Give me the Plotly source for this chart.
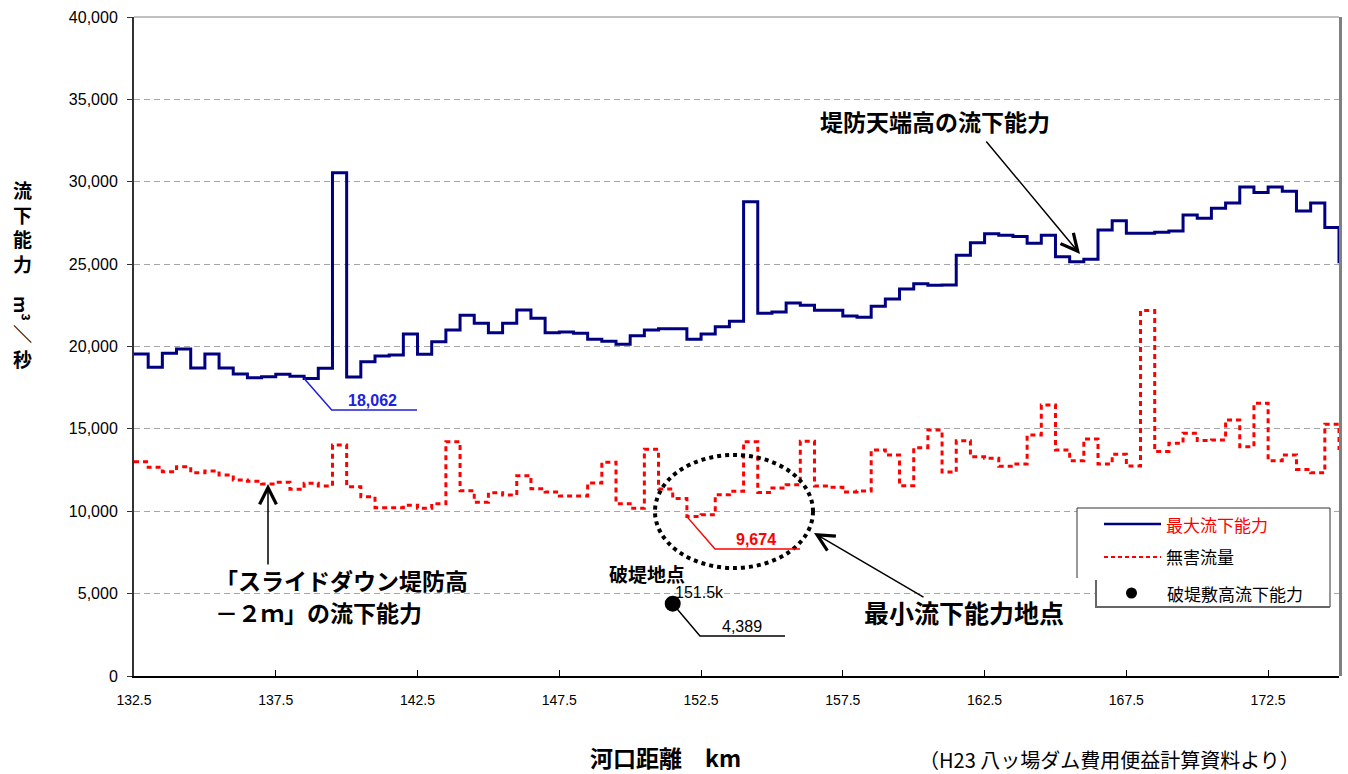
import plotly.graph_objects as go

# ---------------- data ----------------
km_start = 132.5
km_step = 0.5
# 堤防天端高の流下能力 (最大流下能力), one value per 0.5 km section
max_capacity = [
    19545, 18740, 19590, 19850, 18700, 19545, 18700, 18330, 18110, 18170,
    18310, 18190, 18062, 18680, 30550, 18150, 19080, 19420, 19490, 20760,
    19530, 20290, 21000, 21890, 21410, 20840, 21410, 22220, 21710, 20840,
    20880, 20800, 20440, 20320, 20130, 20660, 21000, 21080, 21080, 20440,
    20760, 21200, 21530, 28790, 22020, 22100, 22640, 22500, 22200, 22200,
    21850, 21770, 22440, 22880, 23490, 23810, 23720, 23730, 25540, 26300,
    26850, 26750, 26670, 26260, 26750, 25450, 25150, 25290, 27070, 27640,
    26870, 26870, 26930, 27010, 27980, 27780, 28390, 28710, 29680, 29340,
    29680, 29420, 28230, 28710, 27230, 25050,
]
# 無害流量
harmless_flow = [
    13000, 12670, 12400, 12700, 12340, 12440, 12200, 11900, 11820, 11650,
    11760, 11330, 11700, 11530, 14020, 11490, 10880, 10220, 10220, 10360,
    10180, 10450, 14220, 11250, 10550, 11130, 10980, 12160, 11360, 11170,
    10930, 10930, 11720, 12980, 10460, 10180, 13770, 11350, 10770, 9674,
    9780, 11000, 11210, 14220, 11140, 11410, 11610, 14250, 11530, 11450,
    11170, 11230, 13720, 13420, 11550, 13860, 14930, 12380, 14280, 13310,
    13210, 12730, 12870, 14630, 16450, 13720, 13070, 14390, 12870, 13460,
    12750, 22180, 13620, 14120, 14730, 14290, 14330, 15540, 13920, 16550,
    13070, 13420, 12540, 12340, 15280, 13720,
]
stations = [km_start + km_step * i for i in range(len(max_capacity))]

breach_km = [151.5]
breach_capacity = [4389]

min_max_capacity = 18062
min_harmless = 9674

x_tickvals = [132.5, 137.5, 142.5, 147.5, 152.5, 157.5, 162.5, 167.5, 172.5]
x_ticktext = ["132.5", "137.5", "142.5", "147.5", "152.5", "157.5", "162.5", "167.5", "172.5"]
y_tickvals = [0, 5000, 10000, 15000, 20000, 25000, 30000, 35000, 40000]
y_ticktext = ["0", "5,000", "10,000", "15,000", "20,000", "25,000", "30,000", "35,000", "40,000"]

# ---------------- geometry helpers ----------------
PL, PR, PT, PB = 134, 1339, 17, 676
XMIN, XMAX, YMIN, YMAX = 132.5, 175.0, 0, 40000


def kx(px):
    return XMIN + (px - PL) / (PR - PL) * (XMAX - XMIN)


def vy(py):
    return YMIN + (PB - py) / (PB - PT) * (YMAX - YMIN)


def xp(px):
    return (px - PL) / (PR - PL)


def yp(py):
    return (PB - py) / (PB - PT)


JP = "Noto Sans CJK JP"
NUM = "Liberation Sans, Arial"

fig = go.Figure()
fig.add_trace(go.Scatter(x=stations, y=max_capacity, mode="lines", line_shape="hv",
                         line=dict(color="#000080", width=3), name="最大流下能力"))
fig.add_trace(go.Scatter(x=stations, y=harmless_flow, mode="lines", line_shape="hv",
                         line=dict(color="#ff0000", width=3, dash="5px,4px"), name="無害流量"))
fig.add_trace(go.Scatter(x=breach_km, y=breach_capacity, mode="markers",
                         marker=dict(color="black", size=16), name="破堤敷高流下能力"))

shapes = []
annotations = []


def text_ann(x, y, text, size, color="black", family=JP, xanchor="center", yanchor="middle",
             ref="paper", **kw):
    d = dict(x=x, y=y, xref="paper" if ref == "paper" else "x", yref="paper" if ref == "paper" else "y",
             text=text, showarrow=False, xanchor=xanchor, yanchor=yanchor,
             font=dict(family=family, size=size, color=color))
    d.update(kw)
    return d


# plot border (top thin, right thick gray, just outside the plotting area)
shapes.append(dict(type="line", xref="paper", yref="paper", x0=0, x1=1, y0=1, y1=1,
                   line=dict(color="#808080", width=1), layer="above"))
shapes.append(dict(type="line", xref="paper", yref="paper", x0=xp(1340.5), x1=xp(1340.5), y0=0, y1=1,
                   line=dict(color="#808080", width=3), layer="above"))

# dotted ellipse around minimum point
shapes.append(dict(type="circle", xref="x", yref="y", x0=kx(655), x1=kx(813),
                   y0=vy(568), y1=vy(455), line=dict(color="black", width=4, dash="dot")))

# leader lines for data labels
shapes.append(dict(type="path", xref="x", yref="y",
                   path=f"M {stations[12]},{min_max_capacity} L {kx(331.7)},{vy(410)} L {kx(417)},{vy(410)}",
                   line=dict(color="#2020e0", width=1.5)))
shapes.append(dict(type="path", xref="x", yref="y",
                   path=f"M {stations[39]},{min_harmless} L {kx(715)},{vy(549)} L {kx(800)},{vy(549)}",
                   line=dict(color="#ff0000", width=1.5)))
shapes.append(dict(type="path", xref="x", yref="y",
                   path=f"M {breach_km[0]},{breach_capacity[0]} L {kx(700)},{vy(636)} L {kx(785)},{vy(636)}",
                   line=dict(color="black", width=1.5)))

annotations.append(text_ann(kx(372), vy(410), f"<b>{min_max_capacity:,}</b>", 16, "#2020e0", NUM,
                            yanchor="bottom", ref="data", yshift=-1))
annotations.append(text_ann(kx(756), vy(549), f"<b>{min_harmless:,}</b>", 16, "#ff0000", NUM,
                            yanchor="bottom", ref="data", yshift=-1))
annotations.append(text_ann(kx(742), vy(636), f"{breach_capacity[0]:,}", 16, "black", NUM,
                            yanchor="bottom", ref="data", yshift=-1))
annotations.append(text_ann(kx(699), vy(592), "151.5k", 16, "black", NUM, ref="data"))
annotations.append(text_ann(kx(647), vy(573), "<b>破堤地点</b>", 19, ref="data"))

# callout texts
annotations.append(text_ann(xp(935), yp(121), "<b>堤防天端高の流下能力</b>", 23))
annotations.append(text_ann(xp(964), yp(612), "<b>最小流下能力地点</b>", 25))
annotations.append(text_ann(xp(213), yp(580), "<b>「スライドダウン堤防高</b>", 23, xanchor="left"))
annotations.append(text_ann(xp(213), yp(612), "<b>－２ｍ」の流下能力</b>", 23, xanchor="left"))

# arrows (head, tail in pixels)
for (hx, hy, tx, ty) in [(1080, 254, 985, 140), (814, 533, 925, 598), (268, 484, 268, 566)]:
    annotations.append(dict(x=kx(hx), y=vy(hy), xref="x", yref="y", text="", showarrow=True,
                            ax=tx - hx, ay=ty - hy, arrowhead=5, arrowsize=2.2, arrowwidth=1.5,
                            arrowcolor="black"))

# y-axis title (vertical Japanese)
annotations.append(text_ann(xp(22), yp(226), "<b>流<br>下<br>能<br>力</b>", 19))
annotations.append(text_ann(xp(22), yp(308), "<b>m³</b>", 18, textangle=90))
annotations.append(text_ann(xp(22), yp(346), "<b>＼<br>秒</b>", 19))

# x-axis title and source
annotations.append(text_ann(xp(665), yp(757), "<b>河口距離　km</b>", 23))
annotations.append(text_ann(xp(1109), yp(759), "（H23 八ッ場ダム費用便益計算資料より）", 20))

# custom legend
shapes.append(dict(type="path", xref="paper", yref="paper", layer="above",
                   path=(f"M {xp(1077)},{yp(508)} L {xp(1330)},{yp(508)} L {xp(1330)},{yp(607)} "
                         f"L {xp(1096)},{yp(607)} L {xp(1096)},{yp(578)} L {xp(1077)},{yp(578)} Z"),
                   fillcolor="white", line=dict(width=0)))
shapes.append(dict(type="path", xref="paper", yref="paper", layer="above",
                   path=f"M {xp(1077)},{yp(578)} L {xp(1077)},{yp(508)} L {xp(1330)},{yp(508)} L {xp(1330)},{yp(607)}",
                   line=dict(color="#333333", width=1)))
shapes.append(dict(type="path", xref="paper", yref="paper", layer="above",
                   path=f"M {xp(1096)},{yp(580)} L {xp(1096)},{yp(607)} L {xp(1330)},{yp(607)}",
                   line=dict(color="#666666", width=2)))
shapes.append(dict(type="line", xref="paper", yref="paper", layer="above",
                   x0=xp(1104), x1=xp(1161), y0=yp(524), y1=yp(524),
                   line=dict(color="#000080", width=2.5)))
shapes.append(dict(type="line", xref="paper", yref="paper", layer="above",
                   x0=xp(1104), x1=xp(1161), y0=yp(557), y1=yp(557),
                   line=dict(color="#ff0000", width=2, dash="4px,3px")))
shapes.append(dict(type="circle", xref="paper", yref="paper", layer="above",
                   x0=xp(1126), x1=xp(1137), y0=yp(598.5), y1=yp(587.5),
                   fillcolor="black", line=dict(color="black", width=0)))
for txt, y, col, xl in [("最大流下能力", 524, "#ff0000", 1164), ("無害流量", 556, "black", 1164),
                        ("破堤敷高流下能力", 593, "black", 1165)]:
    annotations.append(text_ann(xp(xl), yp(y), txt, 17, col, xanchor="left"))

fig.update_layout(
    template="none",
    width=1348, height=774,
    margin=dict(l=PL, r=1348 - PR, t=PT, b=774 - PB, autoexpand=False),
    plot_bgcolor="white", paper_bgcolor="white",
    showlegend=False,
    font=dict(family=NUM, color="black"),
    shapes=shapes, annotations=annotations,
    xaxis=dict(range=[XMIN, XMAX], tickvals=x_tickvals, ticktext=x_ticktext, automargin=False,
               ticks="inside", ticklen=6, tickcolor="black", tickwidth=1,
               showline=True, linecolor="black", linewidth=2,
               showgrid=False, zeroline=False, ticklabelstandoff=10,
               tickfont=dict(family=NUM, size=14, color="black")),
    yaxis=dict(range=[YMIN, YMAX], tickvals=y_tickvals, ticktext=y_ticktext, automargin=False,
               ticks="outside", ticklen=5, tickcolor="#333333", tickwidth=1,
               showline=True, linecolor="#333333", linewidth=2,
               showgrid=True, gridcolor="#a6a6a6", gridwidth=1, griddash="6px,4px",
               zeroline=False, ticklabelstandoff=6,
               tickfont=dict(family=NUM, size=16, color="black")),
)

fig.write_html("out.html", config={"displayModeBar": False},
               post_script="document.body.style.margin='0';document.body.style.overflow='hidden';")
